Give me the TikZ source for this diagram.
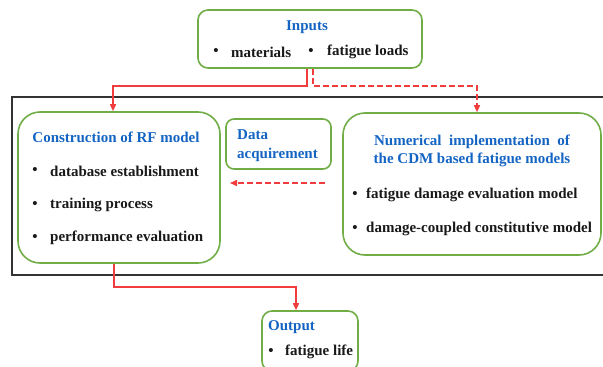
\documentclass[tikz,border=0pt]{standalone}
\usepackage{fontspec}
\setmainfont{Liberation Serif}
\usetikzlibrary{arrows.meta}
\definecolor{boxgreen}{RGB}{112,173,71}
\definecolor{titleblue}{RGB}{20,100,195}
\definecolor{linkred}{RGB}{240,60,60}
\tikzset{
  greenbox/.style={draw=boxgreen, line width=1.6pt, rounded corners=#1, inner sep=0pt},
  greenbox/.default=10pt,
  title/.style={text=titleblue, font=\bfseries\fontsize{15}{17}\selectfont, inner sep=0pt},
  item/.style={text=black!90, font=\bfseries\fontsize{15}{17}\selectfont, inner sep=0pt, anchor=west},
  dot/.style={text=black!90, font=\bfseries\fontsize{15}{17}\selectfont, inner sep=0pt},
  redline/.style={draw=linkred, line width=1.5pt},
  redtip/.style={-{Triangle[length=7pt,width=6pt]}},
  dashedred/.style={redline, dash pattern=on 6pt off 3pt}
}
\begin{document}
\begin{tikzpicture}[x=1pt,y=-1pt]
\useasboundingbox (0,0) rectangle (603,367);
% outer frame
\draw[line width=1.2pt, black!80] (12,97) rectangle (610,275);

% boxes
\node[greenbox, minimum width=224pt, minimum height=58pt] (inp) at (310,39) {};
\node[greenbox=22pt, minimum width=202pt, minimum height=151pt] (rf) at (119,187.5) {};
\node[greenbox=8pt, minimum width=105pt, minimum height=50pt] (data) at (278.5,144) {};
\node[greenbox=22pt, minimum width=258pt, minimum height=142pt] (num) at (472,184) {};
\node[greenbox, minimum width=96pt, minimum height=60pt] (out) at (310,341) {};

% Inputs
\node[title] (tinp) at (307,27) {Inputs};
\node[dot] (d1) at (216,52) {•};
\node[item] (i1) at (231,52) {materials};
\node[dot] (d2) at (311,52) {•};
\node[item] (i2) at (327,52) {fatigue loads};

% RF model
\node[title] (trf) at (116,137) {Construction of RF model};
\node[dot] (d3) at (35,171) {•};
\node[item] (r1) at (50,171) {database establishment};
\node[dot] (d4) at (35,205) {•};
\node[item] (r2) at (50,205) {training process};
\node[dot] (d5) at (35,238) {•};
\node[item] (r3) at (50,238) {performance evaluation};

% Data acquirement
\node[title, anchor=west] (tda) at (237,135) {Data};
\node[title, anchor=west] (tdb) at (237,155) {acquirement};

% Numerical implementation
\node[title] (tn1) at (472,142) {Numerical\ \ implementation\ \ of};
\node[title] (tn2) at (472,160) {the CDM based fatigue models};
\node[dot] (d6) at (355,195) {•};
\node[item] (n1) at (366,195) {fatigue damage evaluation model};
\node[dot] (d7) at (355,229) {•};
\node[item] (n2) at (366,229) {damage-coupled constitutive model};

% Output
\node[title, anchor=west] (tout) at (268,327) {Output};
\node[dot] (d8) at (271,352) {•};
\node[item] (o1) at (285,352) {fatigue life};

% connectors
\draw[redline, redtip] ([xshift=-3pt]inp.south) -- ++(0,17) -| ([xshift=-6pt]rf.north);
\draw[dashedred, redtip] ([xshift=3pt]inp.south) -- ++(0,17) -| ([xshift=5pt]num.north);
\draw[redline, redtip] ([xshift=-5pt]rf.south) -- ++(0,23) -| ([xshift=-14pt]out.north);
\coordinate (das) at (325,183);
\coordinate (dae) at (230,183);
\draw[dashedred, redtip] (das) -- (dae);
\end{tikzpicture}
\end{document}
